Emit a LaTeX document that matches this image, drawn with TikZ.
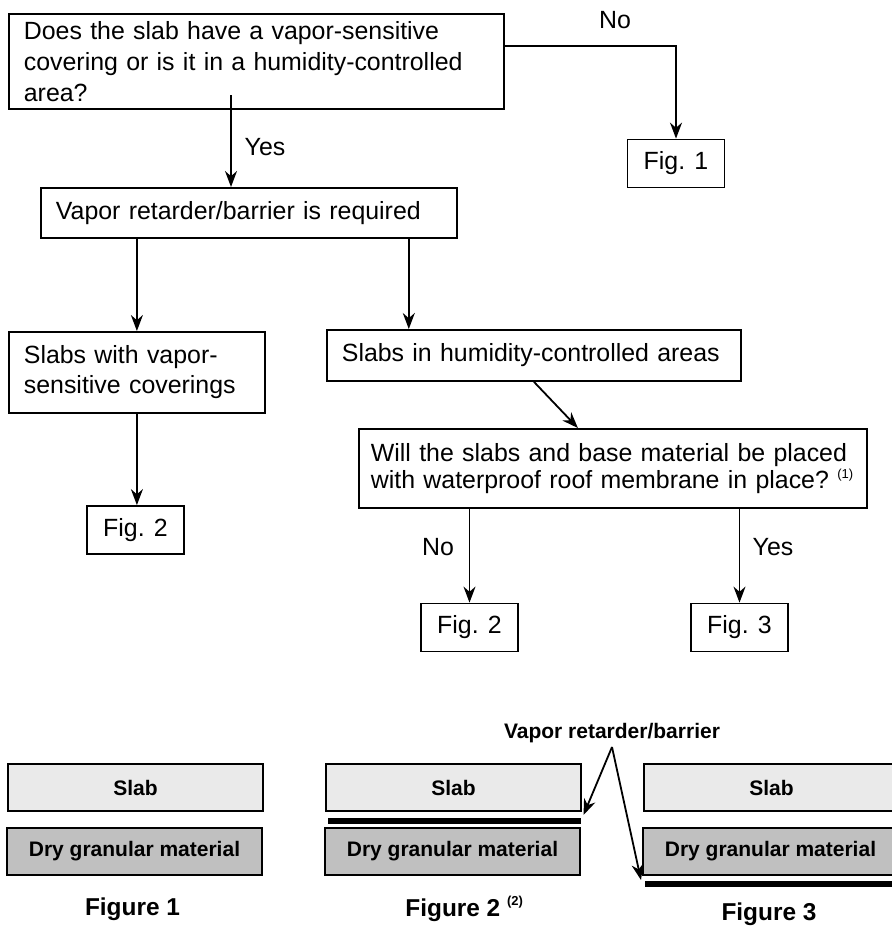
\documentclass[tikz,border=0pt]{standalone}
\usepackage{fontspec}
\setmainfont{Liberation Sans}
\usetikzlibrary{arrows.meta}
\usetikzlibrary{calc}

\definecolor{slabgray}{RGB}{234,234,234}
\definecolor{drygray}{RGB}{192,192,192}

\newcommand{\smallnote}[1]{\raisebox{0.8ex}{\fontsize{6.5}{7}\selectfont #1}}

\tikzset{
    box/.style={draw, line width=0.9pt, anchor=north west, align=left, inner xsep=7.5pt, inner ysep=0pt, font=\fontsize{12.45}{15.5}\selectfont},
    figbox/.style={draw, line width=0.9pt, minimum width=48.5pt, minimum height=24pt, inner sep=0pt, font=\fontsize{12.45}{15}\selectfont},
    answer/.style={inner sep=0pt, font=\fontsize{12.45}{15}\selectfont},
    arr/.style={line width=0.9pt, -{Stealth[length=8pt,width=6pt,inset=2.6pt]}},
    layer/.style={draw, line width=0.9pt, minimum width=127.5pt, minimum height=23.5pt, inner sep=0pt, font=\fontsize{10.5}{12}\selectfont\bfseries},
    caption/.style={inner sep=0pt, font=\fontsize{12.2}{14}\selectfont\bfseries},
}

\begin{document}
\begin{tikzpicture}[x=0.5pt,y=-0.5pt]
    \useasboundingbox (0,0) rectangle (891,927);

    % decision tree
    \node[box, text width=232.5pt, minimum height=47.5pt] (q) at (8,13) {Does the slab have a vapor-sensitive\\covering or is it in a humidity-controlled\\area?};
    \node[figbox] (f1) at (676,163.5) {Fig. 1};
    \node[box, text width=193pt, minimum height=25pt] (req) at (40,187) {Vapor retarder/barrier is required};
    \node[box, text width=113pt, minimum height=40.5pt, font=\fontsize{12.45}{15}\selectfont] (cov) at (8,331) {Slabs with vapor-\\sensitive coverings};
    \node[box, text width=192pt, minimum height=25.5pt] (hum) at (326,329) {Slabs in humidity-controlled areas};
    \node[box, text width=242pt, inner xsep=6pt, minimum height=39.5pt, font=\fontsize{12.45}{13.7}\selectfont] (ask) at (358,428) {Will the slabs and base material be placed\\with waterproof roof membrane in place?~\smallnote{(1)}};
    \node[figbox] (fig2a) at (135.5,530) {Fig. 2};
    \node[figbox] (fig2b) at (469.5,627.5) {Fig. 2};
    \node[figbox] (fig3) at (739.5,627.5) {Fig. 3};

    \node[answer] (no1) at (615,20) {No};
    \node[answer] (yes1) at (265,147) {Yes};
    \node[answer] (no2) at (438,547) {No};
    \node[answer] (yes2) at (773,547) {Yes};

    \coordinate (qout) at (231,95);
    \coordinate (qno) at (503,46);
    \coordinate (reqr) at ([xshift=-24.5pt]req.south east);

    \draw[arr] (qout) -- (qout |- req.north);
    \draw[arr] (qno) -| (f1.north);
    \draw[arr] (req.south -| cov.north) -- (cov.north);
    \draw[arr] (reqr) -- (reqr |- hum.north);
    \draw[arr] (cov.south) -- (cov.south |- fig2a.north);
    \draw[arr] (hum.south) -- ([xshift=-17.5pt]ask.north);
    \draw[arr] (ask.south -| fig2b.north) -- (fig2b.north);
    \draw[arr] (ask.south -| fig3.north) -- (fig3.north);

    % slab sections
    \foreach \n/\x in {1/135.5, 2/453.5, 3/771.5}{
        \node[layer, fill=slabgray] (slab\n) at (\x,787.5) {Slab};
        \node[layer, fill=drygray] (dry\n) at (\x-1,851.5) {Dry granular material};
    }
    \fill (328,817.5) rectangle (581,823.5);
    \fill (645,880.5) rectangle (900,886.5);

    \node[font=\fontsize{10.5}{12}\selectfont\bfseries, inner sep=0pt] (vap) at (612,733) {Vapor retarder/barrier};
    \coordinate (vapfoot) at (612,747);
    \coordinate (bar2) at (583.5,815);
    \coordinate (bar3) at (641,880);
    \draw[arr] (vapfoot) -- (bar2);
    \draw[arr] (vapfoot) -- (bar3);

    \node[caption] (cap1) at (132.5,909) {Figure 1};
    \node[caption, anchor=west] (cap2) at (405,909) {Figure 2 \smallnote{(2)}};
    \node[caption] (cap3) at (769,914) {Figure 3};
\end{tikzpicture}
\end{document}
